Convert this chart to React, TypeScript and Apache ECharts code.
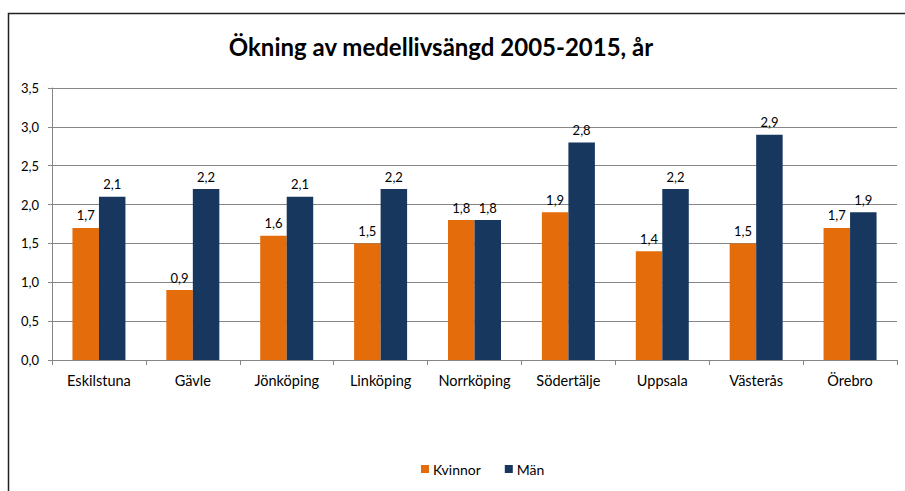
import React, { useEffect, useRef } from "react";
import * as echarts from "echarts";

const categories = ["Eskilstuna", "Gävle", "Jönköping", "Linköping", "Norrköping", "Södertälje", "Uppsala", "Västerås", "Örebro"];
const kvinnor = [1.7, 0.9, 1.6, 1.5, 1.8, 1.9, 1.4, 1.5, 1.7];
const man = [2.1, 2.2, 2.1, 2.2, 1.8, 2.8, 2.2, 2.9, 1.9];
const seriesNames = ["Kvinnor", "Män"];
const titleText = "Ökning av medellivsängd 2005-2015, år";

const FONT = "Lato";
const fmt = (v: number) => v.toFixed(1).replace(".", ",");

export default function App() {
  const ref = useRef<HTMLDivElement>(null);
  useEffect(() => {
    if (!ref.current) return;
    const chart = echarts.init(ref.current, undefined, { renderer: "svg" });
    const labelCfg = {
      show: true,
      position: "top" as const,
      distance: 6,
      color: "#000",
      fontFamily: FONT,
      fontSize: 13,
      formatter: (p: any) => fmt(p.value),
    };
    chart.setOption({
      animation: false,
      backgroundColor: "#fff",
      title: {
        text: titleText,
        left: 436,
        top: 29,
        textAlign: "center",
        textStyle: { fontFamily: FONT, fontWeight: "bold", fontSize: 24, color: "#000" },
      },
      graphic: [
        {
          type: "rect",
          shape: { x: 8.5, y: 13.5, width: 1000, height: 1000 },
          style: { fill: "none", stroke: "#222", lineWidth: 1.5 },
          silent: true,
        },
      ],
      legend: {
        data: seriesNames,
        left: 416,
        top: 457,
        itemWidth: 8,
        itemHeight: 8,
        itemGap: 24,
        icon: "rect",
        textStyle: { fontFamily: FONT, fontSize: 14, color: "#000", padding: [0, 0, 0, -1] },
      },
      grid: { left: 52, right: 8, top: 88, bottom: 131, containLabel: false },
      xAxis: {
        type: "category",
        data: categories,
        axisLine: { lineStyle: { color: "#868686", width: 1 } },
        axisTick: { show: true, length: 5, lineStyle: { color: "#868686" } },
        axisLabel: { fontFamily: FONT, fontSize: 14.5, color: "#000", margin: 13 },
      },
      yAxis: {
        type: "value",
        min: 0,
        max: 3.5,
        interval: 0.5,
        axisLine: { show: true, lineStyle: { color: "#868686", width: 1 } },
        axisTick: { show: true, length: 4, lineStyle: { color: "#868686" } },
        splitLine: { lineStyle: { color: "#868686", width: 1 } },
        axisLabel: { fontFamily: FONT, fontSize: 13, color: "#000", margin: 13, formatter: (v: number) => fmt(v) },
      },
      series: [
        {
          name: seriesNames[0],
          type: "bar",
          data: kvinnor,
          barWidth: 26.5,
          barGap: "0%",
          itemStyle: { color: "#E46C0A" },
          label: labelCfg,
        },
        {
          name: seriesNames[1],
          type: "bar",
          data: man,
          barWidth: 26.5,
          barGap: "0%",
          itemStyle: { color: "#17375E" },
          label: labelCfg,
        },
      ],
    });
    return () => chart.dispose();
  }, []);
  return <div ref={ref} style={{ position: "absolute", left: 0, top: 0, width: 905, height: 491 }} />;
}
